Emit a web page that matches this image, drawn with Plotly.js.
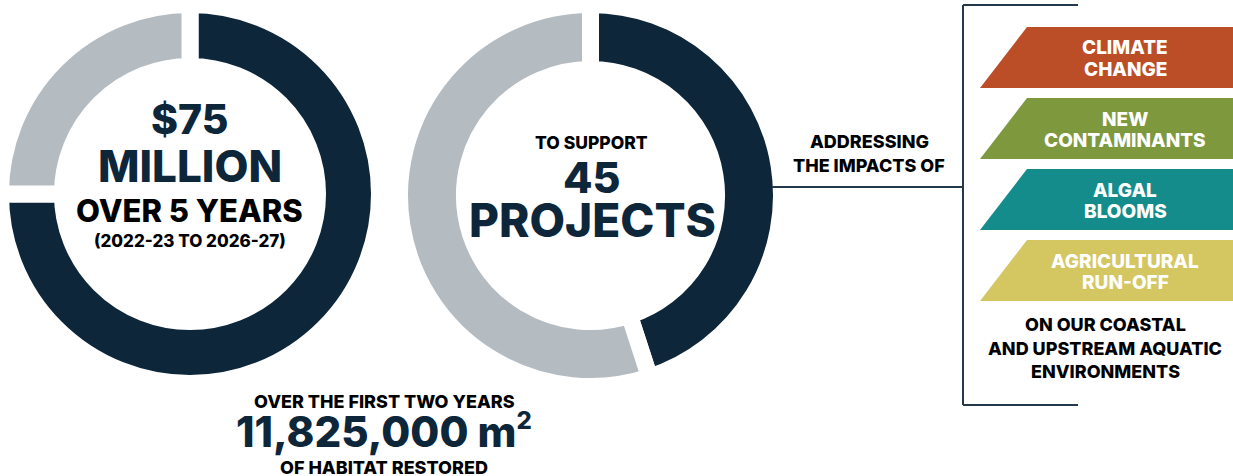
<!DOCTYPE html>
<html>
<head>
<meta charset="utf-8">
<script src="https://cdn.plot.ly/plotly-3.0.1.min.js"></script>
<style>html,body{margin:0;padding:0;background:#fff;}#chart{width:1233px;height:476px;}</style>
</head>
<body>
<div id="chart"></div>
<script>
// ---- data ----
const fundingLabels = ['Funded', 'Remaining'];
const fundingValues = [75, 25];
const projectLabels = ['Supported', 'Other'];
const projectValues = [45, 55];
const fundingText = ['$75', 'MILLION', 'OVER 5 YEARS', '(2022-23 TO 2026-27)'];
const projectText = ['TO SUPPORT', '45', 'PROJECTS'];
const habitatText = ['OVER THE FIRST TWO YEARS', '11,825,000 m', 'OF HABITAT RESTORED'];
const habitatUnitSup = '2';
const addressingText = ['ADDRESSING', 'THE IMPACTS OF'];
const impactLine1 = ['CLIMATE', 'NEW', 'ALGAL', 'AGRICULTURAL'];
const impactLine2 = ['CHANGE', 'CONTAMINANTS', 'BLOOMS', 'RUN-OFF'];
const environmentText = ['ON OUR COASTAL', 'AND UPSTREAM AQUATIC', 'ENVIRONMENTS'];

// ---- style ----
const W = 1233, H = 476;
const NAVY = '#0d2639', GRAY = '#b4bbc1', LINE = '#243a4c';
const bannerColors = ['#bb4e27', '#7e983e', '#148c8c', '#d4c661'];
const FONT = 'Inter, "Liberation Sans", Arial, sans-serif';
const px = x => x / W, py = y => 1 - y / H;

function donut(values, labels, cx, cy, R, hole) {
  return {
    type: 'pie', values: values, labels: labels, hole: hole,
    sort: false, direction: 'clockwise', rotation: 0,
    marker: {colors: [NAVY, GRAY], line: {color: '#ffffff', width: 17}},
    textinfo: 'none', hoverinfo: 'label+value', showlegend: false,
    domain: {x: [px(cx - R), px(cx + R)], y: [py(cy + R), py(cy - R)]}
  };
}

const traces = [
  donut(fundingValues, fundingLabels, 190, 194, 189.5, 0.673),
  donut(projectValues, projectLabels, 590.5, 195.5, 191, 0.66)
];

const annotations = [];
function txt(t, x, y, size, color, extra) {
  annotations.push(Object.assign({
    text: t, x: px(x), y: py(y), xref: 'paper', yref: 'paper',
    xanchor: 'center', yanchor: 'middle', showarrow: false, borderpad: 0,
    font: {family: FONT, size: size, color: color, weight: 800}
  }, extra || {}));
}
// left donut text
txt(fundingText[0], 190, 119, 41, NAVY);
txt(fundingText[1], 190, 166, 44, NAVY);
txt(fundingText[2], 190, 210, 31, '#000');
txt(fundingText[3], 190, 240.5, 17, '#000');
// middle donut text
txt(projectText[0], 591, 142.5, 17.5, '#000');
txt(projectText[1], 592, 177, 43, NAVY);
txt(projectText[2], 592, 220, 46, NAVY);
// bottom text
txt(habitatText[0], 384, 401.5, 18, '#000');
txt(habitatText[1] + '<sup><span style="font-size:24px">' + habitatUnitSup + '</span></sup>', 384, 431, 42, NAVY);
txt(habitatText[2], 384, 466.5, 18, '#000', {height: 18});
// addressing
txt(addressingText[0], 869, 141.5, 18, '#000');
txt(addressingText[1], 869, 165.5, 18, '#000');
// environments
environmentText.forEach((t, i) => txt(t, 1105, 324.5 + i * 23.5, 18, '#000'));

const shapes = [];
// banners
const bannerTop = [27, 98, 169, 240];
const bannerH = 61;
bannerTop.forEach((top, i) => {
  const bot = top + bannerH;
  shapes.push({
    type: 'path', xref: 'paper', yref: 'paper', line: {width: 0},
    fillcolor: bannerColors[i],
    path: `M ${px(1027)} ${py(top)} L ${px(1233)} ${py(top)} L ${px(1233)} ${py(bot)} L ${px(980)} ${py(bot)} Z`
  });
  txt(impactLine1[i], 1125, top + 21, 19, '#fff');
  txt(impactLine2[i], 1125, top + 42, 19, '#fff');
});
// bracket and connector
function seg(x0, y0, x1, y1) {
  shapes.push({type: 'line', xref: 'paper', yref: 'paper',
    x0: px(x0), y0: py(y0), x1: px(x1), y1: py(y1),
    line: {color: LINE, width: 2}});
}
seg(772, 187, 963, 187);
seg(963, 5, 963, 405);
seg(963, 5, 1078, 5);
seg(963, 405, 1078, 405);

Plotly.newPlot('chart', traces, {
  width: W, height: H,
  margin: {l: 0, r: 0, t: 0, b: 0},
  paper_bgcolor: '#fff', plot_bgcolor: '#fff',
  showlegend: false,
  shapes: shapes, annotations: annotations
}, {displayModeBar: false, staticPlot: true});
</script>
</body>
</html>
